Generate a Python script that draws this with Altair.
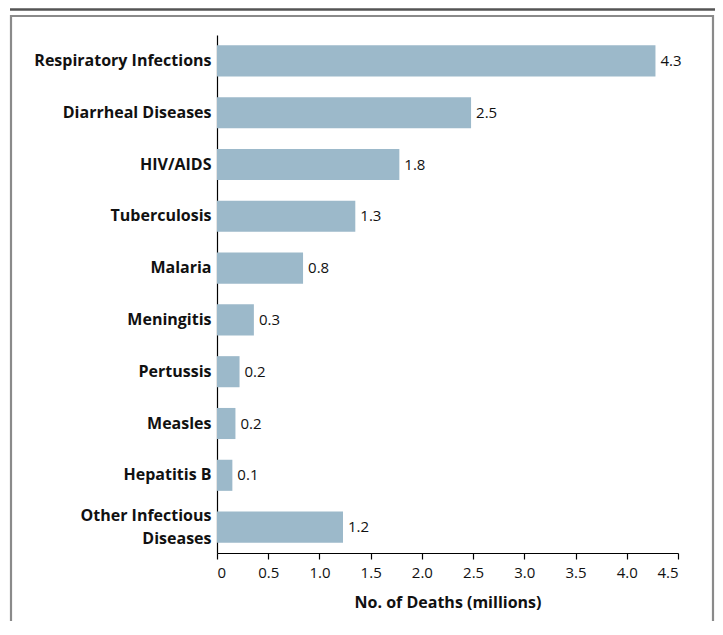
import altair as alt
import pandas as pd

causes = ["Respiratory Infections", "Diarrheal Diseases", "HIV/AIDS", "Tuberculosis",
          "Malaria", "Meningitis", "Pertussis", "Measles", "Hepatitis B",
          "Other Infectious|Diseases"]
deaths = [4.28, 2.48, 1.78, 1.35, 0.84, 0.36, 0.22, 0.18, 0.15, 1.23]
labels = ["4.3", "2.5", "1.8", "1.3", "0.8", "0.3", "0.2", "0.2", "0.1", "1.2"]
ticks = [0, 0.5, 1.0, 1.5, 2.0, 2.5, 3.0, 3.5, 4.0, 4.5]

df = pd.DataFrame({"cause": causes, "deaths": deaths, "label": labels})

FONT = "Open Sans"
W, H = 461, 518

y = alt.Y("cause:N", sort=causes, title=None,
          scale=alt.Scale(paddingInner=0.4, paddingOuter=0.2),
          axis=alt.Axis(labelExpr="split(datum.label, '|')", labelFont=FONT,
                        labelFontWeight="bold", labelFontSize=16, labelColor="#111",
                        labelLineHeight=23, ticks=False, labelPadding=6,
                        labelOffset={"condition": {"test": "indexof(datum.value, '|') >= 0",
                                                   "value": -11.5}, "value": 0},
                        domainColor="#000", domainWidth=1.2))
x = alt.X("deaths:Q", title="No. of Deaths (millions)",
          scale=alt.Scale(domain=[0, 4.5], nice=False),
          axis=alt.Axis(values=ticks, grid=False, labelFont=FONT, labelFontSize=15,
                        labelColor="#111", tickColor="#000", tickSize=6, tickWidth=1.2,
                        domainColor="#000", domainWidth=1.2, labelPadding=6,
                        labelExpr="datum.value == 0 ? '0' : format(datum.value, '.1f')",
                        titleFont=FONT, titleFontSize=16, titleFontWeight="bold",
                        titleColor="#111", titlePadding=14))

bars = alt.Chart(df).mark_bar(color="#9cb9ca").encode(x=x, y=y)
text = alt.Chart(df).mark_text(align="left", baseline="middle", dx=5, font=FONT,
                               fontSize=15, color="#111").encode(
    x="deaths:Q", y=alt.Y("cause:N", sort=causes), text="label:N")

one = pd.DataFrame({"a": [0]})
topline = alt.Chart(one).mark_rule(color="#555", strokeWidth=2.5).encode(
    x=alt.value(-207), x2=alt.value(500), y=alt.value(-25.5))
box = alt.Chart(one).mark_rect(fill=None, stroke="#8a8a8a", strokeWidth=2.2).encode(
    x=alt.value(-206), x2=alt.value(496), y=alt.value(-19), y2=alt.value(620))

chart = alt.layer(box, topline, bars, text).properties(
    width=W, height=H,
    autosize=alt.AutoSizeParams(type="none"),
    padding={"left": 209, "top": 27, "right": 37, "bottom": 68},
).configure_view(stroke=None)

chart.save("out.html", embed_options={"renderer": "svg", "actions": False})
